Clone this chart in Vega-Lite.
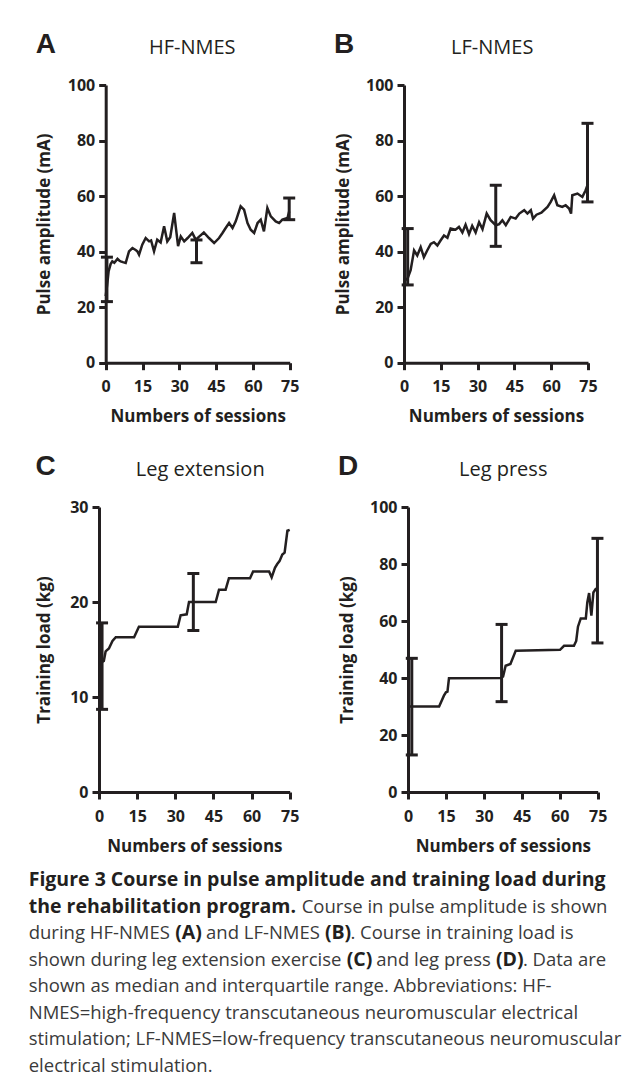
{
  "$schema": "https://vega.github.io/schema/vega-lite/v6.json",
  "padding": {"left": 28, "top": 31, "right": 0, "bottom": 0},
  "background": "white",
  "config": {
    "view": {"stroke": null},
    "font": "Open Sans",
    "axis": {
      "grid": false,
      "domainColor": "#231f20", "domainWidth": 3,
      "tickColor": "#231f20", "tickWidth": 3, "tickSize": 7,
      "labelFont": "Open Sans", "labelFontWeight": "bold", "labelFontSize": 16, "labelColor": "#231f20",
      "labelFlush": false, "labelOverlap": false,
      "titleFont": "Open Sans", "titleFontWeight": "bold", "titleFontSize": 17, "titleColor": "#231f20"
    },
    "axisX": {"labelPadding": 9, "titlePadding": 14},
    "axisY": {"labelPadding": 4, "titlePadding": 12, "minExtent": 40, "maxExtent": 40},
    "title": {"font": "Liberation Sans", "fontSize": 28, "fontWeight": "bold", "color": "#231f20", "anchor": "start", "frame": "bounds", "baseline": "bottom", "offset": -22}
  },
  "datasets": {
    "A_line": [
      {"s":0,"v":24},{"s":0.6,"v":28},{"s":1.2,"v":33},{"s":2,"v":35.5},{"s":2.7,"v":36.5},{"s":3.5,"v":36},{"s":4.8,"v":37.4},{"s":5.5,"v":36.8},{"s":6.1,"v":36.5},{"s":7,"v":36.2},{"s":8.15,"v":35.9},{"s":9.5,"v":40.1},{"s":10.9,"v":41.3},{"s":12.2,"v":40.6},{"s":12.9,"v":40.1},{"s":13.6,"v":38.9},{"s":14.9,"v":42.5},{"s":16.3,"v":44.9},{"s":17.7,"v":43.7},{"s":18.5,"v":44},{"s":19.7,"v":40.1},{"s":21,"v":44.3},{"s":22.4,"v":43.3},{"s":23.8,"v":49.1},{"s":25.1,"v":43.7},{"s":26.3,"v":45.2},{"s":27.9,"v":53.9},{"s":29.5,"v":42},{"s":30.6,"v":45.5},{"s":32,"v":43.7},{"s":33.4,"v":44.9},{"s":35.3,"v":46.7},{"s":36.7,"v":44.3},{"s":38.2,"v":45.5},{"s":40,"v":46.9},{"s":42.1,"v":44.9},{"s":44.2,"v":43.1},{"s":46.2,"v":44.9},{"s":47.6,"v":46.7},{"s":48.9,"v":48.5},{"s":50.3,"v":50.3},{"s":51.7,"v":48.5},{"s":53,"v":50.9},{"s":55,"v":56.3},{"s":56.4,"v":55.1},{"s":57.8,"v":50.3},{"s":59.1,"v":47.9},{"s":60.5,"v":46.7},{"s":61.9,"v":50.3},{"s":63.2,"v":51.5},{"s":64.5,"v":47.3},{"s":65.9,"v":55.7},{"s":67.3,"v":52.7},{"s":69.3,"v":50.9},{"s":70.7,"v":50.3},{"s":72,"v":51.5},{"s":74.1,"v":52.1},{"s":74.8,"v":54.5}
    ],
    "A_err": [{"s":0.5,"lo":22,"hi":38},{"s":37,"lo":36,"hi":44.2},{"s":74.8,"lo":51.5,"hi":59.3}],
    "B_line": [
      {"s":0,"v":29.5},{"s":1.4,"v":30.2},{"s":2.7,"v":33.3},{"s":4.1,"v":40.4},{"s":5.4,"v":38.6},{"s":6.8,"v":41.6},{"s":8.1,"v":38},{"s":9.5,"v":40.5},{"s":10.9,"v":42.8},{"s":12.2,"v":43.4},{"s":13.6,"v":42.2},{"s":14.9,"v":44},{"s":16.3,"v":45.8},{"s":17.7,"v":45},{"s":19,"v":48.3},{"s":21,"v":47.9},{"s":22.4,"v":48.9},{"s":23.8,"v":46.9},{"s":25.1,"v":49.7},{"s":26.5,"v":46.3},{"s":27.8,"v":49.3},{"s":29.2,"v":46.9},{"s":30.6,"v":50.6},{"s":32,"v":48.1},{"s":33.7,"v":53.7},{"s":35.3,"v":51.3},{"s":37.4,"v":49.5},{"s":38.8,"v":49.9},{"s":40.1,"v":51.3},{"s":41.5,"v":49.5},{"s":43.5,"v":52.5},{"s":45.5,"v":51.9},{"s":47,"v":53.7},{"s":49,"v":54.9},{"s":50.3,"v":53.7},{"s":51.7,"v":54.9},{"s":52.6,"v":51.9},{"s":54,"v":53.3},{"s":56,"v":54},{"s":58.5,"v":56.1},{"s":59.8,"v":57.9},{"s":61.2,"v":60.3},{"s":62.5,"v":56.7},{"s":64.5,"v":56.1},{"s":65.9,"v":56.7},{"s":67.3,"v":55.5},{"s":68.1,"v":53.7},{"s":68.6,"v":60.3},{"s":70.7,"v":60.9},{"s":72.7,"v":59.7},{"s":74,"v":62},{"s":75,"v":64.5}
    ],
    "B_err": [{"s":1.5,"lo":28,"hi":48.3},{"s":37.4,"lo":41.9,"hi":63.9},{"s":74.8,"lo":57.9,"hi":86.2}],
    "C_line": [
      {"s":0,"v":13.5},{"s":1.9,"v":13.8},{"s":2.6,"v":14.8},{"s":3.9,"v":15.1},{"s":5.3,"v":15.9},{"s":6.6,"v":16.3},{"s":13.8,"v":16.3},{"s":15.7,"v":17.4},{"s":31,"v":17.4},{"s":32.1,"v":18.6},{"s":34.5,"v":18.7},{"s":35.4,"v":20},{"s":45.9,"v":20},{"s":47.2,"v":21.3},{"s":49.8,"v":21.3},{"s":51.1,"v":22.5},{"s":59.4,"v":22.5},{"s":60.6,"v":23.2},{"s":66.9,"v":23.2},{"s":67.9,"v":22.6},{"s":69.2,"v":23.6},{"s":70.1,"v":24},{"s":71,"v":24.3},{"s":72.1,"v":25},{"s":73,"v":25.2},{"s":74.1,"v":27.5},{"s":75,"v":27.6}
    ],
    "C_err": [{"s":1.2,"lo":8.7,"hi":17.8},{"s":37.1,"lo":17,"hi":23}],
    "D_line": [
      {"s":0,"v":30},{"s":12.3,"v":30},{"s":14.2,"v":33.8},{"s":15,"v":35},{"s":15.6,"v":35.2},{"s":16.2,"v":39.9},{"s":36.7,"v":40},{"s":37.6,"v":40.5},{"s":38.6,"v":44.3},{"s":40.5,"v":44.9},{"s":42.6,"v":49.6},{"s":60.1,"v":49.9},{"s":61.7,"v":51.3},{"s":65.6,"v":51.3},{"s":66.5,"v":53},{"s":67.2,"v":58},{"s":68.3,"v":60.9},{"s":70.3,"v":60.9},{"s":70.9,"v":66.6},{"s":71.6,"v":69.8},{"s":72.5,"v":61.9},{"s":73.3,"v":70},{"s":74.2,"v":71.2},{"s":75,"v":71.5}
    ],
    "D_err": [{"s":1.5,"lo":13,"hi":46.9},{"s":37,"lo":31.7,"hi":58.8},{"s":74.9,"lo":52.3,"hi":89}],
    "caption": [
      {"line":1,"pos":0,"bold":true,"text":"Figure 3 Course in pulse amplitude and training load during"},
      {"line":2,"pos":0,"bold":true,"text":"the rehabilitation program."},
      {"line":2,"pos":273,"bold":false,"text":"Course in pulse amplitude is shown"},
      {"line":3,"pos":0,"bold":false,"text":"during HF-NMES"},
      {"line":3,"pos":146.5,"bold":true,"text":"(A)"},
      {"line":3,"pos":177.3,"bold":false,"text":"and LF-NMES"},
      {"line":3,"pos":296.2,"bold":true,"text":"(B)"},
      {"line":3,"pos":321.7,"bold":false,"text":". Course in training load is"},
      {"line":4,"pos":0,"bold":false,"text":"shown during leg extension exercise"},
      {"line":4,"pos":318,"bold":true,"text":"(C)"},
      {"line":4,"pos":347.6,"bold":false,"text":"and leg press"},
      {"line":4,"pos":467.2,"bold":true,"text":"(D)"},
      {"line":4,"pos":494.2,"bold":false,"text":". Data are"},
      {"line":5,"pos":0,"bold":false,"text":"shown as median and interquartile range. Abbreviations: HF-"},
      {"line":6,"pos":0,"bold":false,"text":"NMES=high-frequency transcutaneous neuromuscular electrical"},
      {"line":7,"pos":0,"bold":false,"text":"stimulation; LF-NMES=low-frequency transcutaneous neuromuscular"},
      {"line":8,"pos":0,"bold":false,"text":"electrical stimulation."}
    ]
  },
  "vconcat": [
    {
      "spacing": 28,
      "vconcat": [
        {
          "spacing": 35,
          "hconcat": [
            {
              "width": 190.7, "height": 277.7,
              "title": {"text": "A"},
              "resolve": {"axis": {"x": "independent"}},
              "layer": [
                {"data": {"name": "A_line"}, "mark": {"type": "line", "color": "#231f20", "strokeWidth": 2.5},
                 "encoding": {
                   "x": {"field": "s", "type": "quantitative", "scale": {"domain": [0, 75], "nice": false, "range": [6.7, 190.7]}, "axis": {"values": [0, 15, 30, 45, 60, 75], "title": "Numbers of sessions"}},
                   "y": {"field": "v", "type": "quantitative", "scale": {"domain": [0, 100], "nice": false}, "axis": {"values": [0, 20, 40, 60, 80, 100], "offset": -6.7}, "title": "Pulse amplitude (mA)"}}},
                {"data": {"name": "A_err"}, "mark": {"type": "rule", "color": "#231f20", "strokeWidth": 3},
                 "encoding": {
                   "x": {"field": "s", "type": "quantitative", "axis": {"orient": "top", "title": "HF-NMES", "titleX": 92.7, "domain": false, "ticks": false, "labels": false, "titleFontWeight": "normal", "titleFontSize": 20, "titlePadding": 28, "minExtent": 0, "maxExtent": 0}},
                   "y": {"field": "lo", "type": "quantitative", "title": "Pulse amplitude (mA)"}, "y2": {"field": "hi"}}},
                {"data": {"name": "A_err"}, "mark": {"type": "tick", "orient": "horizontal", "color": "#231f20", "opacity": 1, "size": 12, "thickness": 3},
                 "encoding": {"x": {"field": "s", "type": "quantitative", "axis": null}, "y": {"field": "lo", "type": "quantitative", "title": "Pulse amplitude (mA)"}}},
                {"data": {"name": "A_err"}, "mark": {"type": "tick", "orient": "horizontal", "color": "#231f20", "opacity": 1, "size": 12, "thickness": 3},
                 "encoding": {"x": {"field": "s", "type": "quantitative", "axis": null}, "y": {"field": "hi", "type": "quantitative", "title": "Pulse amplitude (mA)"}}}
              ]
            },
            {
              "width": 184, "height": 277.7,
              "title": {"text": "B"},
              "resolve": {"axis": {"x": "independent"}},
              "layer": [
                {"data": {"name": "B_line"}, "mark": {"type": "line", "color": "#231f20", "strokeWidth": 2.5},
                 "encoding": {
                   "x": {"field": "s", "type": "quantitative", "scale": {"domain": [0, 75], "nice": false}, "axis": {"values": [0, 15, 30, 45, 60, 75], "title": "Numbers of sessions"}},
                   "y": {"field": "v", "type": "quantitative", "scale": {"domain": [0, 100], "nice": false}, "axis": {"values": [0, 20, 40, 60, 80, 100]}, "title": "Pulse amplitude (mA)"}}},
                {"data": {"name": "B_err"}, "mark": {"type": "rule", "color": "#231f20", "strokeWidth": 3},
                 "encoding": {
                   "x": {"field": "s", "type": "quantitative", "axis": {"orient": "top", "title": "LF-NMES", "titleX": 87.7, "domain": false, "ticks": false, "labels": false, "titleFontWeight": "normal", "titleFontSize": 20, "titlePadding": 28, "minExtent": 0, "maxExtent": 0}},
                   "y": {"field": "lo", "type": "quantitative", "title": "Pulse amplitude (mA)"}, "y2": {"field": "hi"}}},
                {"data": {"name": "B_err"}, "mark": {"type": "tick", "orient": "horizontal", "color": "#231f20", "opacity": 1, "size": 12, "thickness": 3},
                 "encoding": {"x": {"field": "s", "type": "quantitative", "axis": null}, "y": {"field": "lo", "type": "quantitative", "title": "Pulse amplitude (mA)"}}},
                {"data": {"name": "B_err"}, "mark": {"type": "tick", "orient": "horizontal", "color": "#231f20", "opacity": 1, "size": 12, "thickness": 3},
                 "encoding": {"x": {"field": "s", "type": "quantitative", "axis": null}, "y": {"field": "hi", "type": "quantitative", "title": "Pulse amplitude (mA)"}}}
              ]
            }
          ]
        },
        {
          "spacing": 39,
          "hconcat": [
            {
              "width": 190.7, "height": 285,
              "title": {"text": "C"},
              "resolve": {"axis": {"x": "independent"}},
              "layer": [
                {"data": {"name": "C_line"}, "mark": {"type": "line", "color": "#231f20", "strokeWidth": 2.5},
                 "encoding": {
                   "x": {"field": "s", "type": "quantitative", "scale": {"domain": [0, 75], "nice": false}, "axis": {"values": [0, 15, 30, 45, 60, 75], "title": "Numbers of sessions"}},
                   "y": {"field": "v", "type": "quantitative", "scale": {"domain": [0, 30], "nice": false}, "axis": {"values": [0, 10, 20, 30], "minExtent": 33.5, "maxExtent": 33.5}, "title": "Training load (kg)"}}},
                {"data": {"name": "C_err"}, "mark": {"type": "rule", "color": "#231f20", "strokeWidth": 3},
                 "encoding": {
                   "x": {"field": "s", "type": "quantitative", "axis": {"orient": "top", "title": "Leg extension", "titleX": 100.7, "domain": false, "ticks": false, "labels": false, "titleFontWeight": "normal", "titleFontSize": 20, "titlePadding": 28, "minExtent": 0, "maxExtent": 0}},
                   "y": {"field": "lo", "type": "quantitative", "title": "Training load (kg)"}, "y2": {"field": "hi"}}},
                {"data": {"name": "C_err"}, "mark": {"type": "tick", "orient": "horizontal", "color": "#231f20", "opacity": 1, "size": 12, "thickness": 3},
                 "encoding": {"x": {"field": "s", "type": "quantitative", "axis": null}, "y": {"field": "lo", "type": "quantitative", "title": "Training load (kg)"}}},
                {"data": {"name": "C_err"}, "mark": {"type": "tick", "orient": "horizontal", "color": "#231f20", "opacity": 1, "size": 12, "thickness": 3},
                 "encoding": {"x": {"field": "s", "type": "quantitative", "axis": null}, "y": {"field": "hi", "type": "quantitative", "title": "Training load (kg)"}}}
              ]
            },
            {
              "width": 189.7, "height": 285,
              "title": {"text": "D"},
              "resolve": {"axis": {"x": "independent"}},
              "layer": [
                {"data": {"name": "D_line"}, "mark": {"type": "line", "color": "#231f20", "strokeWidth": 2.5},
                 "encoding": {
                   "x": {"field": "s", "type": "quantitative", "scale": {"domain": [0, 75], "nice": false}, "axis": {"values": [0, 15, 30, 45, 60, 75], "title": "Numbers of sessions"}},
                   "y": {"field": "v", "type": "quantitative", "scale": {"domain": [0, 100], "nice": false}, "axis": {"values": [0, 20, 40, 60, 80, 100]}, "title": "Training load (kg)"}}},
                {"data": {"name": "D_err"}, "mark": {"type": "rule", "color": "#231f20", "strokeWidth": 3},
                 "encoding": {
                   "x": {"field": "s", "type": "quantitative", "axis": {"orient": "top", "title": "Leg press", "titleX": 94.7, "domain": false, "ticks": false, "labels": false, "titleFontWeight": "normal", "titleFontSize": 20, "titlePadding": 28, "minExtent": 0, "maxExtent": 0}},
                   "y": {"field": "lo", "type": "quantitative", "title": "Training load (kg)"}, "y2": {"field": "hi"}}},
                {"data": {"name": "D_err"}, "mark": {"type": "tick", "orient": "horizontal", "color": "#231f20", "opacity": 1, "size": 12, "thickness": 3},
                 "encoding": {"x": {"field": "s", "type": "quantitative", "axis": null}, "y": {"field": "lo", "type": "quantitative", "title": "Training load (kg)"}}},
                {"data": {"name": "D_err"}, "mark": {"type": "tick", "orient": "horizontal", "color": "#231f20", "opacity": 1, "size": 12, "thickness": 3},
                 "encoding": {"x": {"field": "s", "type": "quantitative", "axis": null}, "y": {"field": "hi", "type": "quantitative", "title": "Training load (kg)"}}}
              ]
            }
          ]
        }
      ]
    },
    {
      "width": 500, "height": 185.5,
      "data": {"name": "caption"},
      "encoding": {
        "x": {"field": "pos", "type": "quantitative", "scale": {"domain": [70.3, 570.3], "nice": false, "zero": false}, "axis": null},
        "y": {"field": "line", "type": "quantitative", "scale": {"domain": [1, 8], "nice": false, "zero": false, "reverse": true}, "axis": null},
        "text": {"field": "text"}
      },
      "layer": [
        {"transform": [{"filter": "datum.bold"}], "mark": {"type": "text", "align": "left", "baseline": "middle", "font": "Open Sans", "fontWeight": "bold", "fontSize": 19.5, "color": "#231f20"}},
        {"transform": [{"filter": "!datum.bold"}], "mark": {"type": "text", "align": "left", "baseline": "middle", "font": "Open Sans", "fontWeight": "normal", "fontSize": 18.5, "color": "#3a3a3a"}}
      ]
    }
  ],
  "spacing": 16
}
